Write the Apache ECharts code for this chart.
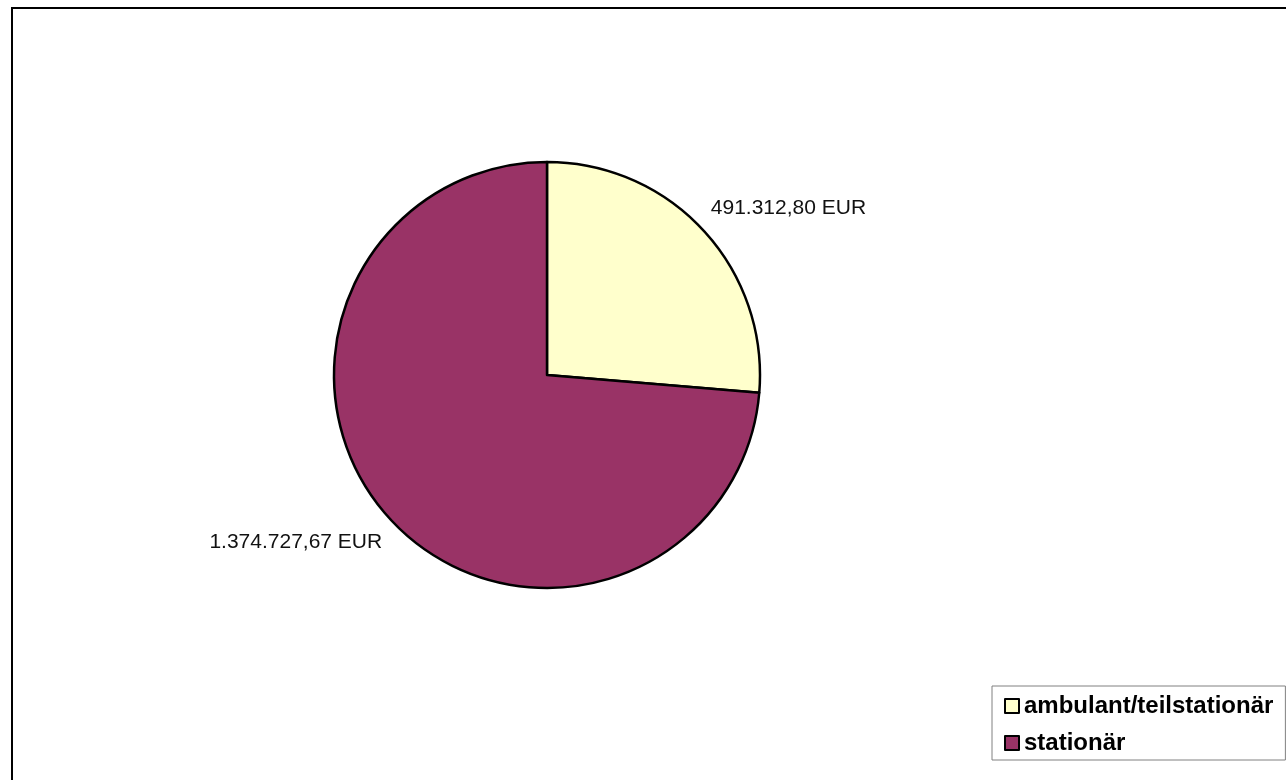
<!DOCTYPE html>
<html>
<head>
<meta charset="utf-8">
<style>
  html, body { margin: 0; padding: 0; background: #ffffff; }
  #chart { width: 1286px; height: 780px; }
</style>
<script src="https://cdn.jsdelivr.net/npm/echarts@6/dist/echarts.min.js"></script>
</head>
<body>
<div id="chart"></div>
<script>
// Ausgaben nach Versorgungsart (EUR)
const categories = ['ambulant/teilstationär', 'stationär'];
const values = [491312.80, 1374727.67];
const colors = ['#FFFFCC', '#993366'];

// German number format: 1.374.727,67 EUR
function formatEUR(v) {
  const parts = v.toFixed(2).split('.');
  const intPart = parts[0].replace(/\B(?=(\d{3})+(?!\d))/g, '.');
  return intPart + ',' + parts[1] + ' EUR';
}

const chart = echarts.init(document.getElementById('chart'), null, { renderer: 'canvas' });

chart.setOption({
  animation: false,
  backgroundColor: '#ffffff',
  textStyle: { fontFamily: '"Liberation Sans", Arial, sans-serif' },
  graphic: [{
    type: 'rect',
    silent: true,
    shape: { x: 12, y: 8, width: 1300, height: 800 },
    style: { fill: 'none', stroke: '#000000', lineWidth: 2 }
  }],
  legend: {
    orient: 'vertical',
    left: 992,
    top: 686,
    padding: [8, 12, 5, 12],
    itemGap: 13,
    itemWidth: 14,
    itemHeight: 14,
    icon: 'rect',
    borderColor: '#808080',
    borderWidth: 1,
    backgroundColor: '#ffffff',
    itemStyle: { borderColor: '#000000', borderWidth: 2 },
    textStyle: {
      fontFamily: '"Liberation Sans", Arial, sans-serif',
      fontWeight: 'bold',
      fontSize: 24,
      color: '#000000',
      padding: [0, 0, 0, 0]
    },
    data: categories
  },
  series: [{
    type: 'pie',
    center: [547, 375],
    radius: 213,
    startAngle: 90,
    clockwise: true,
    avoidLabelOverlap: false,
    itemStyle: { borderColor: '#000000', borderWidth: 2.5 },
    emphasis: { disabled: true },
    label: {
      show: true,
      position: 'outside',
      fontFamily: '"Liberation Sans", Arial, sans-serif',
      fontSize: 21,
      color: '#111111',
      formatter: p => formatEUR(p.value)
    },
    labelLine: { show: false, length: 34, length2: 0 },
    labelLayout: p => ({ dx: p.align === 'left' ? -23 : 22 }),
    data: categories.map((name, i) => ({
      name: name,
      value: values[i],
      itemStyle: { color: colors[i] }
    }))
  }]
});
</script>
</body>
</html>
